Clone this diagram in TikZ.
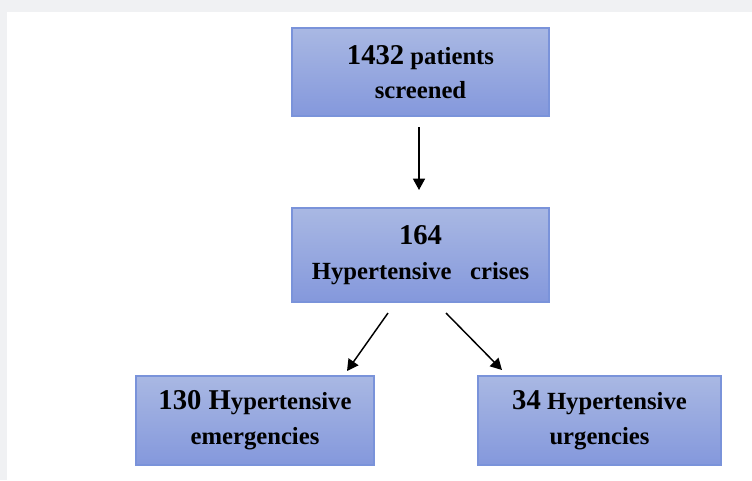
\documentclass[tikz,border=0pt]{standalone}
\usepackage{fontspec}
\setmainfont{Liberation Serif}
\usetikzlibrary{arrows.meta}
\definecolor{bgray}{HTML}{F0F1F3}
\definecolor{boxtop}{HTML}{A9B8E3}
\definecolor{boxbot}{HTML}{8498DC}
\definecolor{boxline}{HTML}{7A93DA}
\newcommand{\bignum}[1]{{\fontsize{21.5pt}{26pt}\selectfont #1}}
\tikzset{
  flowbox/.style={draw=boxline, line width=0.9pt, top color=boxtop, bottom color=boxbot,
    align=center, inner sep=0pt, font=\bfseries\fontsize{18.5pt}{26pt}\selectfont},
  arr/.style={-{Triangle[length=8.5pt,width=9pt]}, line width=1.1pt, black}
}
\begin{document}
\begin{tikzpicture}[x=0.75pt,y=-0.75pt]
\fill[bgray] (0,0) rectangle (752,480);
\fill[white] (7,12) rectangle (752,480);
\useasboundingbox (0,0) rectangle (752,480);
\node[flowbox, minimum width=192.75pt, minimum height=66pt] (top) at (420.5,72)
  {\bignum{1432} patients\\screened};
\node[flowbox, minimum width=192.75pt, minimum height=70.5pt] (mid) at (420.5,255)
  {\bignum{164}\\Hypertensive\ \ \ crises};
\node[flowbox, minimum width=178.5pt, minimum height=66.75pt] (bl) at (255,420.5)
  {\bignum{130 H}ypertensive\\emergencies};
\node[flowbox, minimum width=182.25pt, minimum height=66.75pt] (br) at (599.5,420.5)
  {\bignum{34} Hypertensive\\urgencies};
\coordinate (a0) at (419,127);
\coordinate (a1) at (419,190);
\coordinate (b0) at (388,313);
\coordinate (b1) at (347,371);
\coordinate (c0) at (446,313);
\coordinate (c1) at (502,370);
\draw[arr] (a0) -- (a1);
\draw[arr] (b0) -- (b1);
\draw[arr] (c0) -- (c1);
\end{tikzpicture}
\end{document}
